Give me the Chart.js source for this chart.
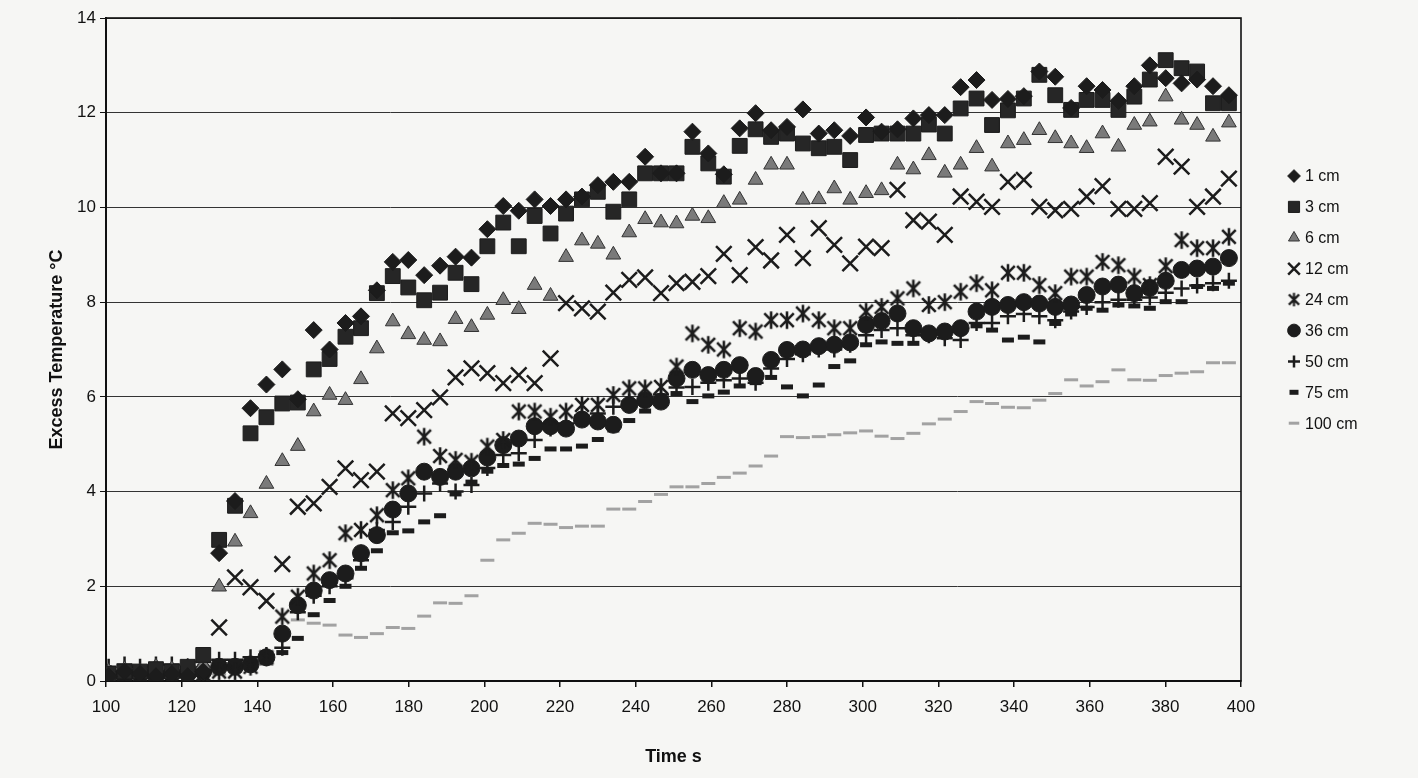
<!DOCTYPE html>
<html>
<head>
<meta charset="utf-8">
<title>Excess temperature vs time</title>
<script src="https://cdn.jsdelivr.net/npm/chart.js@4.4.1/dist/chart.umd.min.js"></script>
<style>
  html, body { margin: 0; padding: 0; background: #f6f6f4; }
  #wrap { width: 1418px; height: 778px; }
</style>
</head>
<body>
<div id="wrap"><canvas id="tempChart" width="1418" height="778"></canvas></div>
<script>
// sample times (s)
const times = [
  100.7, 104.9, 109.0, 113.2, 117.4, 121.6, 125.7, 129.9, 134.1, 138.2,
  142.4, 146.6, 150.7, 154.9, 159.1, 163.3, 167.4, 171.6, 175.8, 179.9,
  184.1, 188.3, 192.4, 196.6, 200.8, 205.0, 209.1, 213.3, 217.5, 221.6,
  225.8, 230.0, 234.1, 238.3, 242.5, 246.7, 250.8, 255.0, 259.2, 263.3,
  267.5, 271.7, 275.8, 280.0, 284.2, 288.4, 292.5, 296.7, 300.9, 305.0,
  309.2, 313.4, 317.5, 321.7, 325.9, 330.1, 334.2, 338.4, 342.6, 346.7,
  350.9, 355.1, 359.2, 363.4, 367.6, 371.8, 375.9, 380.1, 384.3, 388.4,
  392.6, 396.8
];

// excess temperature (°C) at each probe height
const cm1 = [
  0.1, 0.2, 0.15, 0.1, 0.15, 0.1, 0.2, 2.7, 3.8, 5.76,
  6.26, 6.58, 5.95, 7.41, 7.0, 7.56, 7.7, 8.25, 8.85, 8.89,
  8.57, 8.77, 8.96, 8.94, 9.54, 10.03, 9.93, 10.17, 10.03, 10.17,
  10.23, 10.47, 10.54, 10.54, 11.07, 10.72, 10.72, 11.6, 11.14, 10.7,
  11.67, 11.99, 11.63, 11.7, 12.07, 11.56, 11.63, 11.51, 11.9, 11.6,
  11.65, 11.88, 11.95, 11.95, 12.54, 12.69, 12.27, 12.29, 12.35, 12.87,
  12.76, 12.1, 12.56, 12.48, 12.25, 12.56, 13.0, 12.73, 12.62, 12.7,
  12.56, 12.37
];
const cm3 = [
  0.15, 0.2, 0.2, 0.25, 0.2, 0.3, 0.55, 2.98, 3.7, 5.23,
  5.57, 5.86, 5.88, 6.58, 6.8, 7.27, 7.45, 8.19, 8.55, 8.31,
  8.04, 8.2, 8.62, 8.38, 9.18, 9.68, 9.18, 9.82, 9.45, 9.87,
  10.17, 10.33, 9.91, 10.17, 10.72, 10.72, 10.72, 11.28, 10.93, 10.65,
  11.3, 11.65, 11.49, 11.56, 11.35, 11.25, 11.28, 11.0, 11.53, 11.56,
  11.56, 11.56, 11.75, 11.56, 12.09, 12.3, 11.74, 12.05, 12.3, 12.8,
  12.37, 12.06, 12.27, 12.27, 12.06, 12.34, 12.7, 13.11, 12.94, 12.87,
  12.2, 12.2
];
const cm6 = [
  0.2, 0.25, 0.2, 0.3, 0.25, 0.3, 0.35, 1.99, 2.94, 3.54,
  4.16, 4.64, 4.96, 5.69, 6.04, 5.93, 6.37, 7.02, 7.59, 7.32,
  7.2, 7.17, 7.64, 7.47, 7.73, 8.04, 7.85, 8.36, 8.13, 8.95,
  9.3, 9.23, 9.0, 9.47, 9.75, 9.68, 9.66, 9.82, 9.77, 10.09,
  10.16, 10.58, 10.9, 10.9, 10.16, 10.17, 10.4, 10.16, 10.3, 10.36,
  10.9, 10.8, 11.1, 10.73, 10.9, 11.25, 10.86, 11.35, 11.42, 11.63,
  11.46, 11.35, 11.25, 11.56, 11.28, 11.74, 11.81, 12.34, 11.85, 11.74,
  11.49, 11.79
];
const cm12 = [
  0.0, 0.05, 0.0, 0.05, 0.0, 0.1, 0.1, 1.13, 2.19, 1.98,
  1.69, 2.47, 3.68, 3.75, 4.1, 4.49, 4.24, 4.42, 5.65, 5.55,
  5.72, 5.99, 6.41, 6.6, 6.5, 6.29, 6.46, 6.29, 6.81, 7.98,
  7.87, 7.8, 8.2, 8.47, 8.52, 8.19, 8.4, 8.43, 8.55, 9.02,
  8.57, 9.16, 8.88, 9.42, 8.93, 9.56, 9.21, 8.82, 9.17, 9.14,
  10.37, 9.73, 9.7, 9.42, 10.23, 10.12, 10.01, 10.54, 10.58, 10.01,
  9.94, 9.97, 10.23, 10.45, 9.97, 9.97, 10.09, 11.07, 10.86, 10.01,
  10.23, 10.61
];
const cm24 = [
  0.1, 0.05, 0.1, 0.05, 0.1, 0.1, 0.15, 0.2, 0.2, 0.3,
  0.5, 1.36, 1.78, 2.27, 2.55, 3.12, 3.19, 3.5, 4.03, 4.28,
  5.16, 4.75, 4.67, 4.63, 4.95, 5.09, 5.69, 5.69, 5.58, 5.69,
  5.83, 5.83, 6.04, 6.18, 6.18, 6.21, 6.64, 7.34, 7.1, 7.0,
  7.45, 7.38, 7.62, 7.62, 7.76, 7.62, 7.45, 7.45, 7.8, 7.9,
  8.08, 8.29, 7.94, 8.0, 8.22, 8.4, 8.25, 8.62, 8.62, 8.36,
  8.19, 8.54, 8.54, 8.85, 8.78, 8.54, 8.36, 8.76, 9.31, 9.14,
  9.14, 9.38
];
const cm36 = [
  0.15, 0.1, 0.15, 0.1, 0.15, 0.15, 0.2, 0.3, 0.3, 0.35,
  0.5, 1.0, 1.6, 1.91, 2.13, 2.27, 2.7, 3.08, 3.62, 3.96,
  4.42, 4.31, 4.42, 4.49, 4.72, 4.98, 5.12, 5.38, 5.38, 5.33,
  5.52, 5.48, 5.41, 5.83, 5.93, 5.9, 6.39, 6.57, 6.46, 6.57,
  6.67, 6.44, 6.78, 6.99, 7.0, 7.07, 7.1, 7.15, 7.52, 7.6,
  7.76, 7.45, 7.34, 7.38, 7.45, 7.8, 7.9, 7.94, 8.0, 7.97,
  7.9, 7.95, 8.15, 8.33, 8.37, 8.19, 8.3, 8.45, 8.68, 8.71,
  8.75, 8.93
];
const cm50 = [
  0.3, 0.35, 0.3, 0.35, 0.35, 0.3, 0.4, 0.45, 0.45, 0.5,
  0.55, 0.7, 1.45, 1.8, 2.0, 2.17, 2.55, 3.19, 3.36, 3.68,
  3.96, 4.17, 4.0, 4.14, 4.5, 4.77, 4.81, 5.09, 5.33, 5.44,
  5.6, 5.65, 5.79, 5.9, 5.95, 6.05, 6.2, 6.21, 6.3, 6.35,
  6.39, 6.3, 6.6, 6.8, 6.9, 7.0, 7.0, 7.1, 7.3, 7.41,
  7.45, 7.3, 7.3, 7.24, 7.2, 7.56, 7.56, 7.7, 7.75, 7.7,
  7.62, 7.8, 7.9, 8.0, 8.05, 8.05, 8.1, 8.2, 8.29, 8.35,
  8.4, 8.45
];
const cm75 = [
  0.2, 0.2, 0.25, 0.2, 0.25, 0.2, 0.3, 0.3, 0.35, 0.35,
  0.4, 0.6, 0.9, 1.4, 1.7, 2.0, 2.38, 2.75, 3.13, 3.17,
  3.36, 3.49, 3.95, 4.2, 4.43, 4.55, 4.58, 4.7, 4.9, 4.9,
  4.96, 5.1, 5.3, 5.5, 5.7, 5.9, 6.07, 5.9, 6.02, 6.1,
  6.23, 6.3, 6.41, 6.21, 6.02, 6.25, 6.64, 6.76, 7.1, 7.16,
  7.13, 7.13, 7.3, 7.35, 7.45, 7.5, 7.41, 7.2, 7.26, 7.16,
  7.55, 7.75, 7.87, 7.83, 7.94, 7.92, 7.87, 8.01, 8.01, 8.33,
  8.29, 8.4
];
const cm100 = [
  0.1, 0.1, 0.05, 0.1, 0.1, 0.1, 0.15, 0.15, 0.2, 0.25,
  0.35, 0.95, 1.29, 1.22, 1.18, 0.97, 0.92, 1.0, 1.13, 1.11,
  1.37, 1.65, 1.64, 1.8, 2.55, 2.98, 3.12, 3.33, 3.31, 3.24,
  3.27, 3.27, 3.63, 3.63, 3.79, 3.94, 4.1, 4.1, 4.17, 4.3,
  4.39, 4.54, 4.75, 5.16, 5.14, 5.16, 5.2, 5.24, 5.28, 5.17,
  5.12, 5.23, 5.43, 5.53, 5.69, 5.9, 5.86, 5.78, 5.77, 5.93,
  6.07, 6.36, 6.23, 6.32, 6.57, 6.36, 6.35, 6.45, 6.5, 6.53,
  6.72, 6.72
];

const seriesLabels = ['1 cm', '3 cm', '6 cm', '12 cm', '24 cm', '36 cm', '50 cm', '75 cm', '100 cm'];
const seriesValues = [cm1, cm3, cm6, cm12, cm24, cm36, cm50, cm75, cm100];
const xTicks = { min: 100, max: 400, step: 20 };
const yTicks = { min: 0, max: 14, step: 2 };

const FONT = '"Liberation Sans", Arial, Helvetica, sans-serif';
const INK = '#1c1c1c';

// six-armed asterisk marker (x plus a vertical bar)
const makeAsterisk = (size, lw) => {
  const c = document.createElement('canvas');
  c.width = size; c.height = size;
  const g = c.getContext('2d');
  g.strokeStyle = INK;
  g.lineWidth = lw;
  const m = size / 2, a = size * 0.34;
  g.beginPath();
  g.moveTo(m - a, m - a); g.lineTo(m + a, m + a);
  g.moveTo(m + a, m - a); g.lineTo(m - a, m + a);
  g.moveTo(m, m - a * 1.3); g.lineTo(m, m + a * 1.3);
  g.stroke();
  return c;
};
const asteriskBig = makeAsterisk(20, 2.6);
const asteriskSmall = makeAsterisk(15, 2.2);

const markerStyles = [
  { pointStyle: 'rectRot', pointRadius: 8.5, pointBackgroundColor: INK, pointBorderColor: INK, pointBorderWidth: 1 },
  { pointStyle: 'rect', pointRadius: 10.5, pointBackgroundColor: '#262626', pointBorderColor: INK, pointBorderWidth: 1 },
  { pointStyle: 'triangle', pointRadius: 8.5, pointBackgroundColor: '#7a7a7a', pointBorderColor: '#333333', pointBorderWidth: 1 },
  { pointStyle: 'crossRot', pointRadius: 11, pointBackgroundColor: INK, pointBorderColor: INK, pointBorderWidth: 2.5 },
  { pointStyle: asteriskBig, legendStyle: asteriskSmall, pointRadius: 10, pointBackgroundColor: INK, pointBorderColor: INK, pointBorderWidth: 1 },
  { pointStyle: 'circle', pointRadius: 8.5, pointBackgroundColor: INK, pointBorderColor: INK, pointBorderWidth: 1 },
  { pointStyle: 'cross', pointRadius: 8, pointBackgroundColor: INK, pointBorderColor: INK, pointBorderWidth: 2.5 },
  { pointStyle: 'line', pointRadius: 6, pointBackgroundColor: INK, pointBorderColor: INK, pointBorderWidth: 5 },
  { pointStyle: 'line', pointRadius: 7, pointBackgroundColor: '#a2a2a2', pointBorderColor: '#a2a2a2', pointBorderWidth: 3 }
];

const datasets = seriesLabels.map((label, k) => ({
  label: label,
  data: times.map((t, i) => ({ x: t, y: seriesValues[k][i] })),
  showLine: false,
  ...markerStyles[k]
}));

// box around the plot area
const framePlugin = {
  id: 'frame',
  beforeDatasetsDraw(chart) {
    const { ctx, chartArea: a } = chart;
    ctx.save();
    ctx.strokeStyle = '#111';
    ctx.lineWidth = 1.6;
    ctx.strokeRect(a.left, a.top, a.right - a.left, a.bottom - a.top);
    ctx.restore();
  }
};

// legend column on the right
const legendPlugin = {
  id: 'sideLegend',
  afterDraw(chart) {
    const ctx = chart.ctx;
    const top = 176, gap = 30.9, mx = 1294, tx = 1305;
    ctx.save();
    chart.data.datasets.forEach((ds, i) => {
      const y = top + i * gap;
      ctx.fillStyle = ds.pointBackgroundColor;
      ctx.strokeStyle = ds.pointBorderColor;
      ctx.lineWidth = ds.pointBorderWidth;
      Chart.helpers.drawPoint(ctx, {
        pointStyle: ds.legendStyle || ds.pointStyle,
        radius: ds.pointRadius * 0.75,
        borderWidth: ds.pointBorderWidth,
        rotation: 0
      }, mx, y);
      ctx.fillStyle = '#111';
      ctx.font = '16px ' + FONT;
      ctx.textBaseline = 'middle';
      ctx.textAlign = 'left';
      ctx.fillText(ds.label, tx, y + 1);
    });
    ctx.restore();
  }
};

Chart.defaults.font.family = FONT;

new Chart(document.getElementById('tempChart'), {
  type: 'scatter',
  data: { datasets: datasets },
  options: {
    responsive: false,
    devicePixelRatio: 1,
    animation: false,
    events: [],
    layout: { padding: { top: 18, right: 177, left: 0, bottom: 0 } },
    plugins: {
      legend: { display: false },
      tooltip: { enabled: false }
    },
    scales: {
      x: {
        type: 'linear',
        min: xTicks.min, max: xTicks.max,
        ticks: { stepSize: xTicks.step, color: '#111', font: { size: 17 }, padding: 10, maxRotation: 0 },
        grid: { drawOnChartArea: false, drawTicks: true, tickLength: 6, color: '#111', lineWidth: 1.5 },
        border: { color: '#111', width: 2 },
        title: { display: true, text: 'Time s', color: '#111', font: { size: 18, weight: 'bold' }, padding: { top: 0, bottom: 10 } },
        afterFit: (s) => { s.height = 97; }
      },
      y: {
        type: 'linear',
        min: yTicks.min, max: yTicks.max,
        ticks: { stepSize: yTicks.step, color: '#111', font: { size: 17 }, padding: 4 },
        grid: { color: '#333333', lineWidth: 1, tickLength: 6, tickColor: '#111' },
        border: { color: '#111', width: 2 },
        title: { display: true, text: 'Excess Temperature °C', color: '#111', font: { size: 18, weight: 'bold' }, padding: { top: 46, bottom: 0 } },
        afterFit: (s) => { s.width = 106; }
      }
    }
  },
  plugins: [framePlugin, legendPlugin]
});
</script>
</body>
</html>
